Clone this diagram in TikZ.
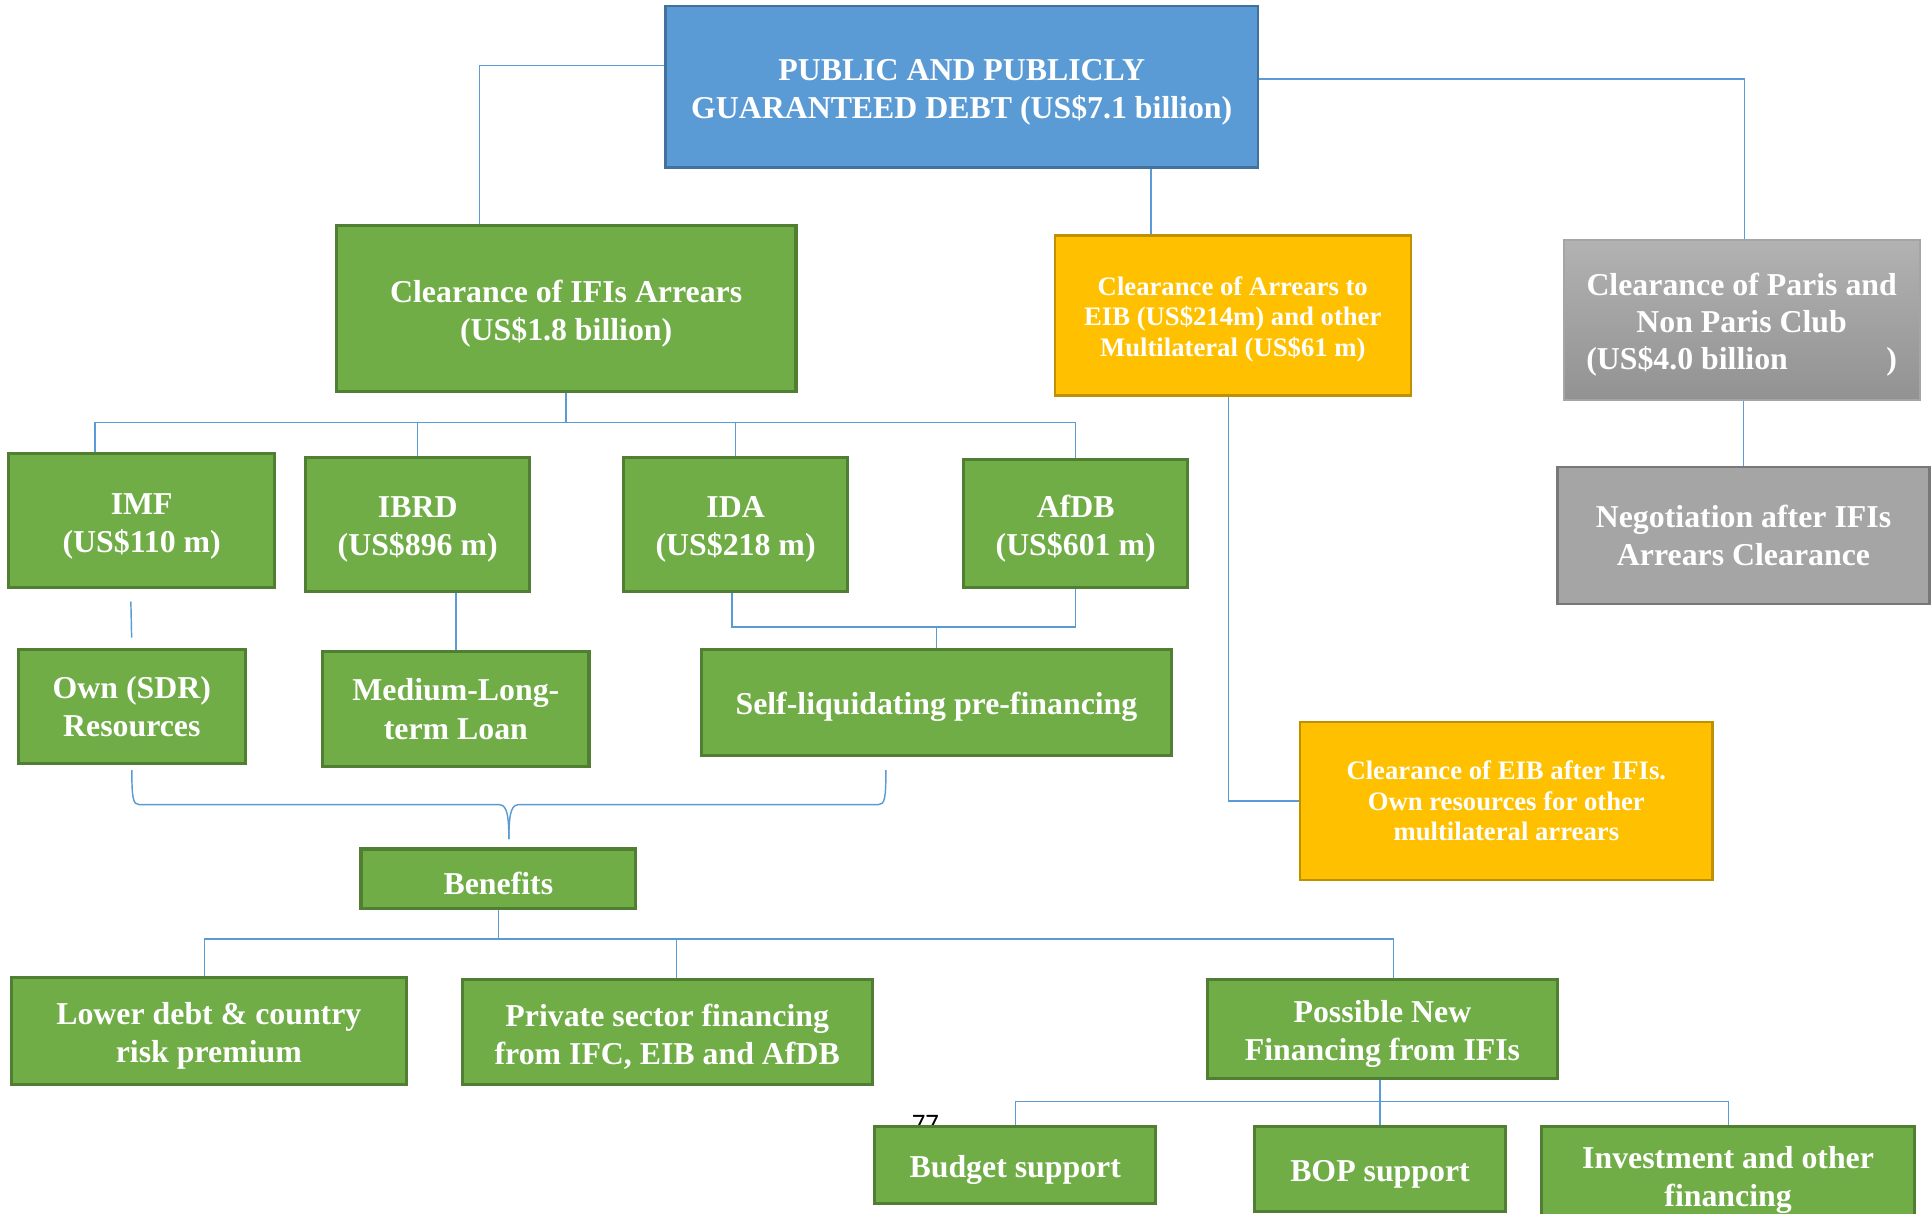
\documentclass[tikz,border=0pt]{standalone}
\usepackage{fontspec}
\setmainfont{Liberation Serif}
\newfontfamily\pagefont{Carlito}
\newcommand\boxlift{\rule{0pt}{1em}}

\definecolor{debtblue}{RGB}{91,155,213}
\definecolor{debtblueline}{RGB}{65,113,156}
\definecolor{ifigreen}{RGB}{112,173,71}
\definecolor{ifigreenline}{RGB}{80,126,50}
\definecolor{eibgold}{RGB}{255,192,0}
\definecolor{eibgoldline}{RGB}{191,144,0}
\definecolor{clubgray}{RGB}{165,165,165}
\definecolor{clubgrayline}{RGB}{120,120,120}
\definecolor{clubtop}{RGB}{178,178,178}
\definecolor{clubbottom}{RGB}{146,146,146}
\definecolor{connblue}{RGB}{91,155,213}

\tikzset{
  sz/.style 2 args={minimum width=#1*0.6pt, minimum height=#2*0.6pt},
  boxtxt/.style={text=white, align=center, inner sep=0pt,
    font=\bfseries\fontsize{15.5}{18.6}\selectfont},
  bluebox/.style={boxtxt, fill=debtblue, draw=debtblueline, line width=1.2pt},
  greenbox/.style={boxtxt, fill=ifigreen, draw=ifigreenline, line width=1.5pt},
  goldbox/.style={boxtxt, fill=eibgold, draw=eibgoldline, line width=1.2pt,
    font=\bfseries\fontsize{13}{15}\selectfont},
  greybox/.style={boxtxt, fill=clubgray, draw=clubgrayline, line width=1.2pt},
  clubbox/.style={boxtxt, top color=clubtop, bottom color=clubbottom,
    draw=clubgray, line width=1pt, font=\bfseries\fontsize{15.5}{18}\selectfont},
  conn/.style={draw=connblue, line width=0.7pt}
}

\begin{document}
\begin{tikzpicture}[x=0.6pt, y=-0.6pt]

\useasboundingbox (0,0) rectangle (1568,985);
\clip (0,0) rectangle (1568,985);

% page number left under the boxes
\node[font=\pagefont\fontsize{13}{13}\selectfont, anchor=base] (pageno) at (751,919) {77};

% top level
\node[bluebox, sz={481}{131}] (debt) at (780.5,70.5)
  {\boxlift PUBLIC AND PUBLICLY\\GUARANTEED DEBT (US\$7.1 billion)};
\node[greenbox, sz={373}{135}] (ifis) at (459.5,250.5)
  {\boxlift Clearance of IFIs Arrears\\(US\$1.8 billion)};
\node[goldbox, sz={289}{130}] (eib) at (1000.5,256)
  {\boxlift Clearance of Arrears to\\EIB (US\$214m) and other\\Multilateral (US\$61 m)};
\node[clubbox, sz={289}{130}] (paris) at (1413.5,260)
  {\boxlift Clearance of Paris and\\Non Paris Club\\(US\$4.0 billion\hspace{48pt})};
\node[greybox, sz={302}{111}] (nego) at (1415,434.5)
  {Negotiation after IFIs\\Arrears Clearance};

% creditors
\node[greenbox, sz={216}{109}] (imf)  at (115,422.5) {\boxlift IMF\\(US\$110 m)};
\node[greenbox, sz={182}{109}] (ibrd) at (339,425.5) {\boxlift IBRD\\(US\$896 m)};
\node[greenbox, sz={182}{109}] (ida)  at (597,425.5) {\boxlift IDA\\(US\$218 m)};
\node[greenbox, sz={182}{104}] (afdb) at (873,425)   {\boxlift AfDB\\(US\$601 m)};

\node[greenbox, sz={184}{93}] (own)    at (107,573.5) {Own (SDR)\\Resources};
\node[greenbox, sz={216}{93}] (medium) at (370,575.5) {Medium-Long-\\term Loan};
\node[greenbox, sz={382}{86}] (selfpre) at (760,570)  {\boxlift Self-liquidating pre-financing};

\node[goldbox, sz={335}{128}] (eibafter) at (1222.5,650)
  {Clearance of EIB after IFIs.\\Own resources for other\\multilateral arrears};

% benefits
\node[greenbox, sz={223}{48}] (benefits) at (404.5,713) {\boxlift Benefits};
\node[greenbox, sz={321}{87}] (lower)    at (169.5,836.5) {\boxlift Lower debt \& country\\risk premium};
\node[greenbox, sz={333}{85}] (private)  at (541.5,837.5) {\boxlift Private sector financing\\from IFC, EIB and AfDB};
\node[greenbox, sz={284}{80}] (possible) at (1122,835) {\boxlift Possible New\\Financing from IFIs};

\node[greenbox, sz={228}{63}] (budget) at (824,945.5)  {\boxlift Budget support};
\node[greenbox, sz={204}{69}] (bop)    at (1120,948.5) {\boxlift BOP support};
\node[greenbox, sz={303}{80}] (invest) at (1402.5,954) {\boxlift Investment and other\\financing};

% connectors
\draw[conn] (debt.west |- 0,53) -- (389,53) -- (ifis.north -| 389,0);
\draw[conn] (debt.east |- 0,64) -| (paris.north -| 1416,0);
\draw[conn] (debt.south -| 934,0) -- (eib.north -| 934,0);
\draw[conn] (nego.north |- paris.south) -- (nego.north);

\draw[conn] (ifis.south) -- (ifis.south |- 0,343);
\draw[conn] (imf.north -| 77,0) |- (afdb.north |- 0,343) -- (afdb.north);
\foreach \n in {ibrd,ida}{%
  \draw[conn] (\n.north) -- (\n.north |- 0,343);
}

\draw[conn, shorten <=6pt, shorten >=5pt] (imf.south -| 106,0) -- (own.north);
\draw[conn] (medium.north |- ibrd.south) -- (medium.north);
\draw[conn] (ida.south -| 594,0) |- (afdb.south |- 0,509) -- (afdb.south);
\draw[conn] (selfpre.north) -- (selfpre.north |- 0,509);

\draw[conn] (eib.south -| 997,0) |- (eibafter.west);

% brace into benefits
\coordinate (bracel) at (107,625);
\coordinate (bracer) at (719,625);
\coordinate (bracetip) at (413,681);
\draw[conn] (bracel) .. controls (107,648) and (108,653) .. (113,653) -- (404,653)
  .. controls (410,653) and (413,656) .. (bracetip);
\draw[conn] (bracer) .. controls (719,648) and (718,653) .. (713,653) -- (422,653)
  .. controls (416,653) and (413,656) .. (bracetip);

\draw[conn] (benefits.south) -- (benefits.south |- 0,762);
\draw[conn] (lower.north -| 166,0) |- (1131,762) -- (possible.north -| 1131,0);
\draw[conn] (private.north -| 549,0) -- (549,762);

\draw[conn] (possible.south -| 1120,0) -- (1120,894);
\draw[conn] (budget.north) |- (1403,894) -- (invest.north -| 1403,0);
\draw[conn] (bop.north) -- (bop.north |- 0,894);

\end{tikzpicture}
\end{document}
